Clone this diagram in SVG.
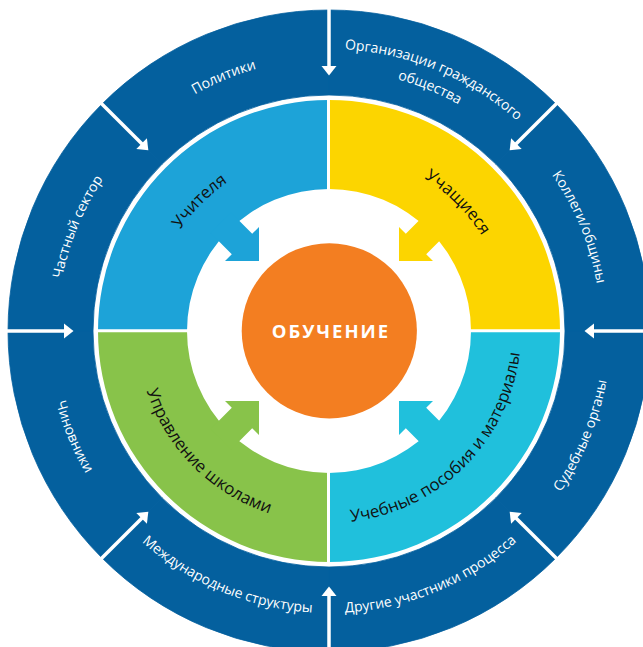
<svg xmlns="http://www.w3.org/2000/svg" width="643" height="647" viewBox="0 0 643 647">
<style>
.seg{fill:#04609E;stroke:#04609E;stroke-width:0.8}
.olab{font-family:"Open Sans","Noto Sans","DejaVu Sans",sans-serif;font-size:14px;fill:#ffffff}
.ilab{font-family:"Open Sans","Noto Sans","DejaVu Sans",sans-serif;font-size:16.8px;fill:#111111}
.ctr{font-family:"Open Sans","Noto Sans","DejaVu Sans",sans-serif;font-size:18.5px;font-weight:700;fill:#ffffff;letter-spacing:2px}
.rshaft{stroke:#ffffff;stroke-width:3.5;fill:none}
.rhead{fill:#ffffff}
.div{stroke:#ffffff;stroke-width:3}
</style>
<defs>
<path id="pPol" d="M59.33 295.5 A272 272 0 0 1 494.58 115.21"/>
<path id="pOrg1" d="M157.33 107.28 A282 282 0 0 1 608.59 294.19"/>
<path id="pOrg2" d="M170.15 123.99 A261 261 0 0 1 587.77 296.93"/>
<path id="pKol" d="M364.5 61.33 A272 272 0 0 1 544.79 496.58"/>
<path id="pCha" d="M113.21 496.58 A272 272 0 0 1 293.5 61.33"/>
<path id="pSud" d="M365.81 610.59 A282 282 0 0 0 552.72 159.33"/>
<path id="pDru" d="M157.33 554.72 A282 282 0 0 0 608.59 367.81"/>
<path id="pMez" d="M49.41 367.81 A282 282 0 0 0 500.67 554.72"/>
<path id="pChi" d="M105.28 159.33 A282 282 0 0 0 292.19 610.59"/>
<path id="pUch" d="M155.13 377.59 A180 180 0 0 1 375.59 157.13"/>
<path id="pUsh" d="M282.41 157.13 A180 180 0 0 1 502.87 377.59"/>
<path id="pUpr" d="M143.54 281.31 A192 192 0 0 0 378.69 516.46"/>
<path id="pUcb" d="M279.31 516.46 A192 192 0 0 0 514.46 281.31"/>
<g id="ringArrow">
<path class="rshaft" d="M329 7 V67"/>
<polygon class="rhead" points="321.5,66 336.5,66 329,75.5"/>
</g>
<polygon id="qArrow" points="259,261 259,227 252.2,233.8 231,212.6 210.6,233 231.8,254.2 225,261"/>
</defs>

<g id="seg-chastny">
<path class="seg" d="M8 331 A321 321 0 0 1 102.02 104.02 L162.12 164.12 A236 236 0 0 0 93 331 Z"/>
<text class="olab"><textPath href="#pCha" startOffset="50%" text-anchor="middle">Частный сектор</textPath></text>
</g>
<g id="seg-politiki">
<path class="seg" d="M102.02 104.02 A321 321 0 0 1 329 10 L329 95 A236 236 0 0 0 162.12 164.12 Z"/>
<text class="olab"><textPath href="#pPol" startOffset="50%" text-anchor="middle">Политики</textPath></text>
</g>
<g id="seg-org">
<path class="seg" d="M329 10 A321 321 0 0 1 555.98 104.02 L495.88 164.12 A236 236 0 0 0 329 95 Z"/>
<text class="olab"><textPath href="#pOrg1" startOffset="50%" text-anchor="middle">Организации гражданского</textPath></text>
<text class="olab"><textPath href="#pOrg2" startOffset="50%" text-anchor="middle">общества</textPath></text>
</g>
<g id="seg-kollegi">
<path class="seg" d="M555.98 104.02 A321 321 0 0 1 650 331 L565 331 A236 236 0 0 0 495.88 164.12 Z"/>
<text class="olab"><textPath href="#pKol" startOffset="50%" text-anchor="middle">Коллеги/общины</textPath></text>
</g>
<g id="seg-sud">
<path class="seg" d="M650 331 A321 321 0 0 1 555.98 557.98 L495.88 497.88 A236 236 0 0 0 565 331 Z"/>
<text class="olab"><textPath href="#pSud" startOffset="50%" text-anchor="middle">Судебные органы</textPath></text>
</g>
<g id="seg-drugie">
<path class="seg" d="M555.98 557.98 A321 321 0 0 1 329 652 L329 567 A236 236 0 0 0 495.88 497.88 Z"/>
<text class="olab"><textPath href="#pDru" startOffset="50%" text-anchor="middle">Другие участники процесса</textPath></text>
</g>
<g id="seg-mezhd">
<path class="seg" d="M329 652 A321 321 0 0 1 102.02 557.98 L162.12 497.88 A236 236 0 0 0 329 567 Z"/>
<text class="olab"><textPath href="#pMez" startOffset="50%" text-anchor="middle">Международные структуры</textPath></text>
</g>
<g id="seg-chinovniki">
<path class="seg" d="M102.02 557.98 A321 321 0 0 1 8 331 L93 331 A236 236 0 0 0 162.12 497.88 Z"/>
<text class="olab"><textPath href="#pChi" startOffset="50%" text-anchor="middle">Чиновники</textPath></text>
</g>

<g id="q-uchitelya">
<path fill="#1DA3D8" d="M98 331 A231 231 0 0 1 329 100 L329 189 A142 142 0 0 0 187 331 Z"/>
<text class="ilab"><textPath href="#pUch" startOffset="50%" text-anchor="middle">Учителя</textPath></text>
</g>
<g id="q-uchashchiesya">
<path fill="#FCD500" d="M329 100 A231 231 0 0 1 560 331 L471 331 A142 142 0 0 0 329 189 Z"/>
<text class="ilab"><textPath href="#pUsh" startOffset="50%" text-anchor="middle">Учащиеся</textPath></text>
</g>
<g id="q-posobiya">
<path fill="#20C0DC" d="M560 331 A231 231 0 0 1 329 562 L329 473 A142 142 0 0 0 471 331 Z"/>
<text class="ilab"><textPath href="#pUcb" startOffset="50%" text-anchor="middle">Учебные пособия и материалы</textPath></text>
</g>
<g id="q-upravlenie">
<path fill="#88C34A" d="M329 562 A231 231 0 0 1 98 331 L187 331 A142 142 0 0 0 329 473 Z"/>
<text class="ilab"><textPath href="#pUpr" startOffset="50%" text-anchor="middle">Управление школами</textPath></text>
</g>
<g id="dividers">
<line class="div" x1="328.5" y1="97" x2="328.5" y2="191"/>
<line class="div" x1="328.5" y1="471" x2="328.5" y2="565"/>
<line class="div" x1="95" y1="330.8" x2="189" y2="330.8"/>
<line class="div" x1="469" y1="330.8" x2="563" y2="330.8"/>
</g>

<g id="connectors">
<use href="#ringArrow"/>
<use href="#ringArrow" transform="rotate(45 329 331)"/>
<use href="#ringArrow" transform="rotate(90 329 331)"/>
<use href="#ringArrow" transform="rotate(135 329 331)"/>
<use href="#ringArrow" transform="rotate(180 329 331)"/>
<use href="#ringArrow" transform="rotate(225 329 331)"/>
<use href="#ringArrow" transform="rotate(270 329 331)"/>
<use href="#ringArrow" transform="rotate(315 329 331)"/>
<use href="#qArrow" fill="#1DA3D8"/>
<use href="#qArrow" fill="#FCD500" transform="rotate(90 329 331)"/>
<use href="#qArrow" fill="#20C0DC" transform="rotate(180 329 331)"/>
<use href="#qArrow" fill="#88C34A" transform="rotate(270 329 331)"/>
</g>

<g id="center">
<circle cx="329.3" cy="330.8" r="87.6" fill="#F37E21"/>
<text class="ctr" x="331" y="338.3" text-anchor="middle">ОБУЧЕНИЕ</text>
</g>
</svg>
